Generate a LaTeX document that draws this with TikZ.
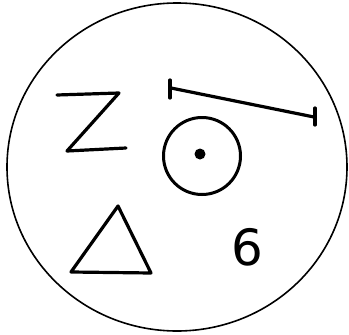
\documentclass[tikz,border=0pt]{standalone}
\usepackage{fontspec}
\newfontfamily\digitfont{DejaVu Sans}
\begin{document}
\begin{tikzpicture}[x=1pt,y=-1pt,
  thick stroke/.style={line width=3.2pt,line cap=round,line join=round},
  outer/.style={line width=1.6pt}]
\useasboundingbox (0,0) rectangle (349,335);
\fill[white] (0,0) rectangle (349,335);
% big outer circle
\draw[outer] (177,167) ellipse [x radius=170, y radius=164];
% Z
\coordinate (z1) at (57,95);
\coordinate (z2) at (119,93);
\coordinate (z3) at (67,151);
\coordinate (z4) at (126,148);
\draw[thick stroke] (z1) -- (z2) -- (z3) -- (z4);
% I-beam segment
\coordinate (s1) at (171,88);
\coordinate (s2) at (314,117);
\draw[thick stroke] (s1) -- (s2);
\draw[thick stroke] (170,80) -- (170,98);
\draw[thick stroke] (315,108) -- (315,125);
% circle with dot
\node[circle,draw,line width=3pt,minimum size=77pt,inner sep=0pt] (c) at (202,156) {};
\fill (200,154) circle [radius=5.5pt];
% triangle
\coordinate (t1) at (118,206);
\coordinate (t2) at (71,272);
\coordinate (t3) at (151,273);
\draw[thick stroke] (t1) -- (t2) -- (t3) -- cycle;
% six
\node[inner sep=0pt] (six) at (247,247) {\digitfont\fontsize{50}{50}\selectfont 6};
\end{tikzpicture}
\end{document}
